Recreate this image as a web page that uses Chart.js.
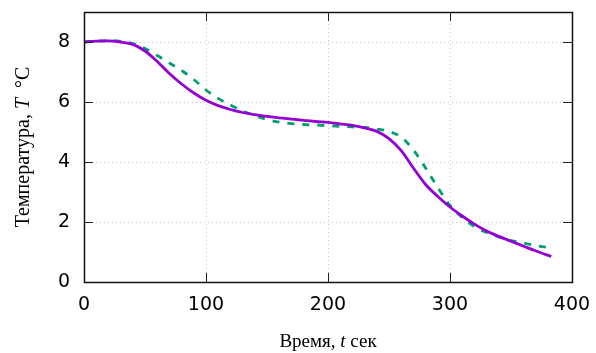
<!DOCTYPE html>
<html>
<head>
<meta charset="utf-8">
<script src="https://cdn.jsdelivr.net/npm/chart.js@4"></script>
<style>
  html, body { margin: 0; padding: 0; background: #fff; }
  #wrap { width: 596px; height: 353px; position: relative; }
</style>
</head>
<body>
<div id="wrap"><canvas id="tempChart"></canvas></div>
<script>
// measured curve (violet, solid)
const timeViolet = [0, 10, 20, 30, 40, 50, 60, 70, 80, 90, 100, 110, 120, 130, 140, 150, 160, 170, 180, 190,
  200, 210, 220, 230, 240, 250, 260, 270, 280, 290, 300, 310, 320, 330, 340, 350, 360, 370, 383];
const tempViolet = [8.00, 8.03, 8.04, 8.00, 7.92, 7.70, 7.35, 6.95, 6.60, 6.30, 6.06, 5.88, 5.75, 5.65, 5.58, 5.52, 5.47, 5.43, 5.39, 5.35,
  5.32, 5.27, 5.22, 5.14, 5.02, 4.78, 4.38, 3.80, 3.25, 2.85, 2.50, 2.20, 1.93, 1.70, 1.52, 1.36, 1.20, 1.04, 0.85];

// model curve (green, dashed)
const timeGreen = [0, 10, 20, 30, 40, 50, 60, 70, 80, 90, 100, 110, 120, 130, 140, 150, 160, 170, 180, 190,
  200, 210, 220, 230, 240, 250, 260, 270, 280, 290, 300, 310, 320, 330, 340, 350, 360, 370, 380];
const tempGreen = [8.00, 8.03, 8.05, 8.02, 7.95, 7.78, 7.55, 7.30, 7.05, 6.75, 6.40, 6.12, 5.90, 5.70, 5.55, 5.42, 5.33, 5.28, 5.25, 5.23,
  5.21, 5.19, 5.17, 5.15, 5.10, 5.02, 4.83, 4.40, 3.80, 3.15, 2.55, 2.15, 1.85, 1.65, 1.50, 1.38, 1.30, 1.22, 1.15];

const xTicks = [0, 100, 200, 300, 400];
const yTicks = [0, 2, 4, 6, 8];

const toPoints = (xs, ys) => xs.map((x, i) => ({ x: x, y: ys[i] }));

// frame, inward ticks on all sides, and serif axis titles with italic symbols
const framePlugin = {
  id: "frame",
  afterDraw(chart) {
    const { ctx, chartArea: a, scales } = chart;
    const len = 9;
    ctx.save();
    ctx.strokeStyle = "#222";
    ctx.lineWidth = 1;
    ctx.beginPath();
    yTicks.forEach(v => {
      const y = Math.round(scales.y.getPixelForValue(v)) + 0.5;
      ctx.moveTo(a.left, y); ctx.lineTo(a.left + len, y);
      ctx.moveTo(a.right, y); ctx.lineTo(a.right - len, y);
    });
    xTicks.forEach(v => {
      const x = Math.round(scales.x.getPixelForValue(v)) + 0.5;
      ctx.moveTo(x, a.bottom); ctx.lineTo(x, a.bottom - len);
      ctx.moveTo(x, a.top); ctx.lineTo(x, a.top + len);
    });
    ctx.stroke();
    ctx.lineWidth = 1.5;
    ctx.strokeStyle = "#111";
    ctx.strokeRect(Math.round(a.left) + 0.5, Math.round(a.top) + 0.5,
      Math.round(a.right - a.left), Math.round(a.bottom - a.top));

    // axis titles
    const drawParts = (parts, cx, cy, rotate) => {
      ctx.save();
      ctx.translate(cx, cy);
      if (rotate) ctx.rotate(-Math.PI / 2);
      ctx.fillStyle = "#000";
      ctx.textBaseline = "alphabetic";
      ctx.textAlign = "left";
      let total = 0;
      parts.forEach(p => { ctx.font = p.font; total += ctx.measureText(p.text).width; });
      let x = -total / 2;
      parts.forEach(p => {
        ctx.font = p.font;
        ctx.fillText(p.text, x, 0);
        x += ctx.measureText(p.text).width;
      });
      ctx.restore();
    };
    const serif = sz => sz + "px 'Liberation Serif', 'DejaVu Serif', serif";
    const serifIt = sz => "italic " + sz + "px 'Liberation Serif', 'DejaVu Serif', serif";
    drawParts([
      { text: "Время, ", font: serif(19) },
      { text: "t", font: serifIt(19) },
      { text: " сек", font: serif(19) }
    ], (a.left + a.right) / 2, 347, false);
    drawParts([
      { text: "Температура, ", font: serif(20) },
      { text: "T", font: serifIt(20) },
      { text: "  °C", font: serif(20) }
    ], 29, (a.top + a.bottom) / 2, true);
    ctx.restore();
  }
};

const tickFont = { family: "'DejaVu Sans', sans-serif", size: 19 };
const gridStyle = { color: "#c4c4c4", lineWidth: 1, drawTicks: false };

const ctx = document.getElementById("tempChart").getContext("2d");
new Chart(ctx, {
  type: "line",
  data: {
    datasets: [
      {
        label: "violet",
        data: toPoints(timeViolet, tempViolet),
        borderColor: "#9400d3",
        borderWidth: 2.8,
        pointRadius: 0,
        cubicInterpolationMode: "monotone",
        fill: false
      },
      {
        label: "green",
        data: toPoints(timeGreen, tempGreen),
        borderColor: "#009e73",
        borderWidth: 2.8,
        borderDash: [7, 8],
        pointRadius: 0,
        cubicInterpolationMode: "monotone",
        fill: false
      }
    ]
  },
  options: {
    responsive: true,
    maintainAspectRatio: false,
    animation: false,
    layout: { padding: { top: 12, right: 24, left: 0, bottom: 0 } },
    plugins: {
      legend: { display: false },
      tooltip: { enabled: false }
    },
    scales: {
      x: {
        type: "linear",
        min: 0,
        max: 400,
        afterBuildTicks: s => { s.ticks = xTicks.map(v => ({ value: v })); },
        afterFit: s => { s.height = 71; s.paddingLeft = 0; s.paddingRight = 0; },
        ticks: { color: "#000", font: tickFont, padding: 12, maxRotation: 0 },
        grid: gridStyle,
        border: { display: false, dash: [1, 3] }
      },
      y: {
        type: "linear",
        min: 0,
        max: 9,
        afterBuildTicks: s => { s.ticks = yTicks.map(v => ({ value: v })); },
        afterFit: s => { s.width = 84; s.paddingTop = 0; s.paddingBottom = 0; },
        ticks: { color: "#000", font: tickFont, padding: 14 },
        grid: gridStyle,
        border: { display: false, dash: [1, 3] }
      }
    }
  },
  plugins: [framePlugin]
});
</script>
</body>
</html>
